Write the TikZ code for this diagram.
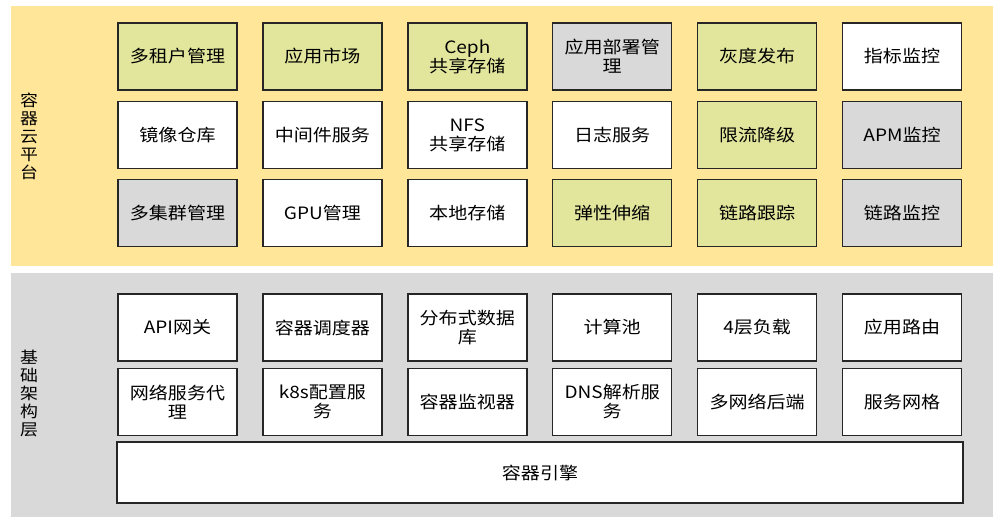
\documentclass[tikz,border=0pt]{standalone}
\usepackage{fontspec}
\setmainfont[FakeStretch=1.12]{Noto Sans CJK SC}
\usetikzlibrary{positioning}
\definecolor{platformyellow}{HTML}{FFE699}
\definecolor{featuregreen}{HTML}{E2E69C}
\definecolor{basegrey}{HTML}{D9D9D9}
\tikzset{
    module/.style={draw=black!85,line width=1.4pt,fill=white,minimum width=119pt,minimum height=67pt,inner sep=1pt,align=center},
    green module/.style={module,fill=featuregreen},
    grey module/.style={module,fill=basegrey},
    layer label/.style={align=center,font=\fontsize{16}{18}\selectfont},
}
\tikzstyle{every node}=[font=\fontsize{17}{19}\selectfont]

\begin{document}
\begin{tikzpicture}[x=1pt,y=1pt,node distance=10pt and 24.5pt]
        \useasboundingbox (0,0) rectangle (1002,522);
        \fill[platformyellow] (11,256) rectangle (993,516);
        \fill[basegrey] (11,5) rectangle (993,249);

        % 容器云平台
        \node[layer label] (pingtai) at (29,386) {容\\器\\云\\平\\台};
        \node[green module] (zuhu) at (177.5,465.5) {多租户管理};
        \node[green module, right=of zuhu] (shichang) {应用市场};
        \node[green module, right=of shichang] (ceph) {Ceph\\共享存储};
        \node[grey module, right=of ceph] (bushu) {应用部署管\\理};
        \node[green module, right=of bushu] (huidu) {灰度发布};
        \node[module, right=of huidu] (zhibiao) {指标监控};

        \node[module, below=of zuhu] (jingxiang) {镜像仓库};
        \node[module, below=of shichang] (zhongjian) {中间件服务};
        \node[module, below=of ceph] (nfs) {NFS\\共享存储};
        \node[module, below=of bushu] (rizhi) {日志服务};
        \node[green module, below=of huidu] (xianliu) {限流降级};
        \node[grey module, below=of zhibiao] (apm) {APM监控};

        \node[grey module, below=of jingxiang] (jiqun) {多集群管理};
        \node[module, below=of zhongjian] (gpu) {GPU管理};
        \node[module, below=of nfs] (bendi) {本地存储};
        \node[green module, below=of rizhi] (tanxing) {弹性伸缩};
        \node[green module, below=of xianliu] (genzong) {链路跟踪};
        \node[grey module, below=of apm] (lianlu) {链路监控};

        % 基础架构层
        \node[layer label] (jichu) at (29,129) {基\\础\\架\\构\\层};
        \node[module] (wangguan) at (177.5,194.5) {API网关};
        \node[module, right=of wangguan] (diaodu) {容器调度器};
        \node[module, right=of diaodu] (shujuku) {分布式数据\\库};
        \node[module, right=of shujuku] (suanchi) {计算池};
        \node[module, right=of suanchi] (fuzai) {4层负载};
        \node[module, right=of fuzai] (luyou) {应用路由};

        \node[module, below=6pt of wangguan] (daili) {网络服务代\\理};
        \node[module, below=6pt of diaodu] (peizhi) {k8s配置服\\务};
        \node[module, below=6pt of shujuku] (jianshi) {容器监视器};
        \node[module, below=6pt of suanchi] (dns) {DNS解析服\\务};
        \node[module, below=6pt of fuzai] (houduan) {多网络后端};
        \node[module, below=6pt of luyou] (wangge) {服务网格};

        \node[module, minimum width=846pt, minimum height=61pt] (yinqing) at (540,49.5) {容器引擎};
    \end{tikzpicture}
\end{document}
